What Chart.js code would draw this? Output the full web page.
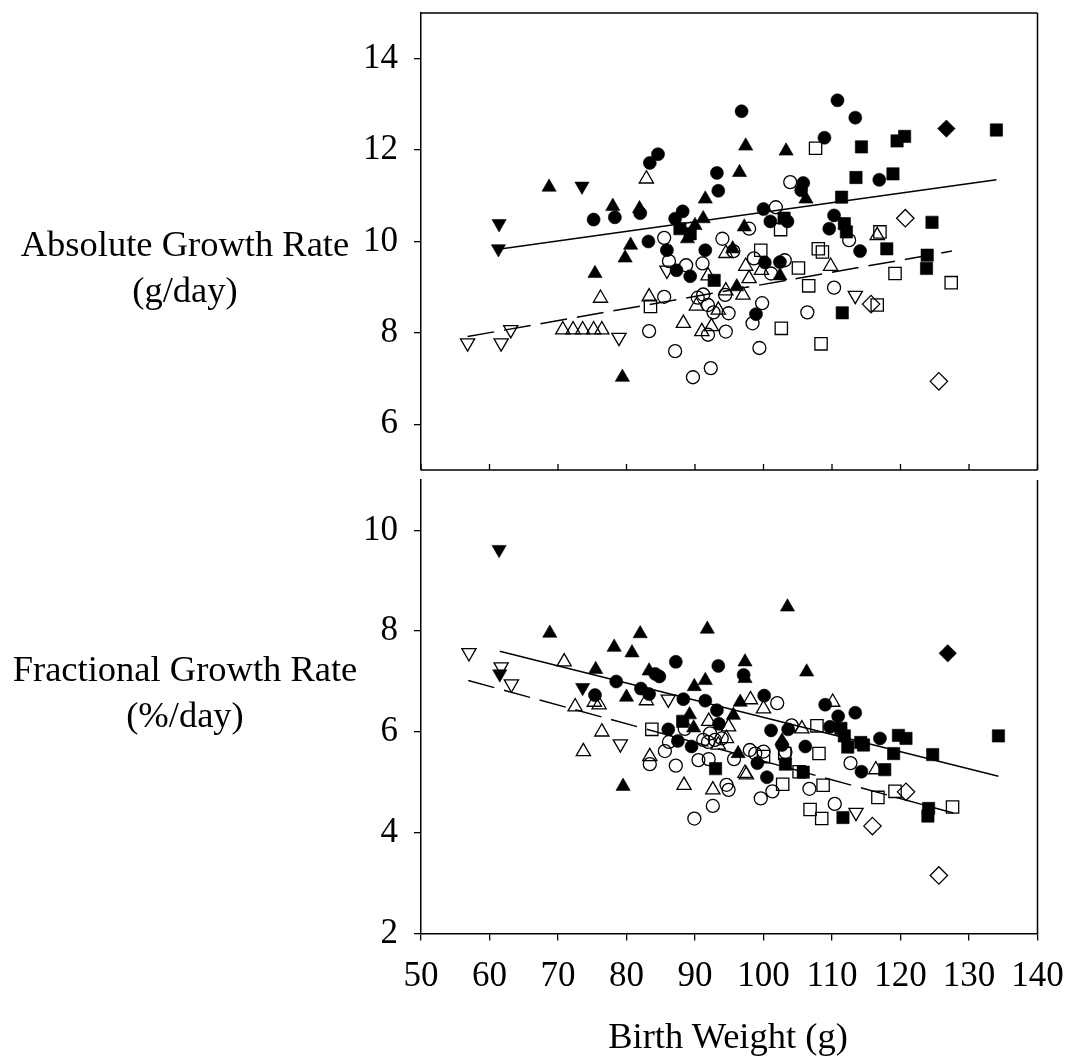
<!DOCTYPE html>
<html>
<head>
<meta charset="utf-8">
<script src="https://cdn.jsdelivr.net/npm/chart.js@4.4.1/dist/chart.umd.min.js"></script>
<style>
html,body{margin:0;padding:0;background:#fff;}
#wrap{position:relative;width:1065px;height:1059px;overflow:hidden;font-family:"Liberation Serif","Times New Roman",serif;color:#000;background:#fff;}
#c1{position:absolute;left:0;top:0;}
#c2{position:absolute;left:0;top:470px;}
.lbl{position:absolute;text-align:center;font-size:36.5px;line-height:46px;white-space:nowrap;}
</style>
</head>
<body>
<div id="wrap">
<canvas id="c1" width="1065" height="480" style="width:1065px;height:480px"></canvas>
<canvas id="c2" width="1065" height="589" style="width:1065px;height:589px"></canvas>
<div class="lbl" style="left:0;width:370px;top:221px">Absolute Growth Rate<br>(g/day)</div>
<div class="lbl" style="left:0;width:370px;top:646px">Fractional Growth Rate<br>(%/day)</div>
<div class="lbl" style="left:528px;width:400px;top:1013px">Birth Weight (g)</div>
</div>
<script>
// ---------- Tick values ----------
const X_TICKS = [50, 60, 70, 80, 90, 100, 110, 120, 130, 140];
const AGR_TICKS = [6, 8, 10, 12, 14];
const FGR_TICKS = [2, 4, 6, 8, 10];

// ---------- Absolute growth rate (g/day) vs birth weight (g) ----------
const agrFilledCircle = [[84.6,11.91],[83.4,11.72],[78.3,10.53],[82.0,10.62],[75.2,10.48],[88.2,10.66],[87.1,10.50],[93.2,11.50],[93.4,11.11],[105.8,11.28],[105.5,11.12],[100.0,10.71],[101.0,10.44],[103.5,10.44],[110.3,10.57],[109.6,10.28],[114.1,9.79],[83.2,10.00],[85.9,9.81],[87.3,9.37],[89.3,9.24],[91.5,9.81],[100.2,9.54],[102.4,9.55],[98.9,8.41],[96.8,12.85],[110.8,13.09],[113.4,12.71],[108.9,12.27],[116.9,11.35]];
const agrOpenCircle = [[103.9,11.30],[101.8,10.75],[112.5,10.03],[97.9,10.28],[85.5,10.08],[86.2,9.57],[88.7,9.48],[94.0,10.06],[91.1,9.52],[95.6,9.79],[98.6,9.63],[103.1,9.59],[101.1,9.30],[110.3,8.99],[106.4,8.45],[99.4,7.67],[99.8,8.65],[98.4,8.21],[94.4,8.83],[91.2,8.84],[90.4,8.77],[91.9,8.61],[92.7,8.45],[94.9,8.43],[91.9,7.96],[94.5,8.03],[87.1,7.60],[89.7,7.03],[92.3,7.23],[83.3,8.04],[85.5,8.79]];
const agrFilledTriangle = [[68.7,11.19],[91.5,10.93],[78.0,10.77],[81.9,10.72],[91.2,10.50],[96.5,11.51],[106.2,10.93],[90.0,10.35],[88.9,10.06],[97.2,10.32],[80.6,9.92],[79.8,9.64],[95.5,9.84],[102.4,9.25],[96.1,9.01],[79.4,7.03],[75.4,9.30],[97.4,12.09],[103.3,11.98]];
const agrOpenTriangle = [[82.9,11.37],[94.5,9.74],[97.4,9.46],[99.7,9.37],[97.9,9.19],[109.8,9.46],[91.9,9.25],[94.5,8.92],[97.0,8.83],[90.2,8.59],[93.4,8.50],[88.3,8.21],[91.0,8.03],[92.4,8.14],[83.3,8.79],[76.2,8.76],[70.7,8.07],[72.2,8.07],[73.6,8.07],[75.2,8.07],[76.4,8.07],[116.6,10.13]];
const agrFilledDown = [[73.5,11.21],[61.4,10.39],[61.3,9.84]];
const agrOpenDown = [[56.8,7.78],[61.7,7.78],[63.1,8.07],[78.9,7.90],[85.9,9.37],[113.4,8.82]];
const agrFilledSquare = [[113.5,11.40],[111.4,10.97],[87.8,10.28],[89.3,10.17],[103.0,10.51],[111.8,10.39],[112.1,10.21],[92.8,9.15],[111.5,8.44],[114.3,12.07],[119.5,12.20],[120.6,12.30],[134.0,12.44],[118.9,11.48],[124.6,10.42],[118.0,9.84],[123.9,9.70],[123.8,9.41]];
const agrOpenSquare = [[102.5,10.26],[99.6,9.81],[105.1,9.42],[108.0,9.84],[108.6,9.77],[106.6,9.03],[102.6,8.10],[108.4,7.76],[83.5,8.58],[107.6,12.04],[117.0,10.21],[119.2,9.30],[127.4,9.10],[116.6,8.61]];
const agrFilledDiamond = [[126.7,12.47]];
const agrOpenDiamond = [[120.7,10.51],[115.7,8.63],[125.6,6.94]];
const agrFitFilled = [[61.3,9.83],[134.0,11.35]];
const agrFitOpen = [[56.8,7.92],[127.5,9.79]];

// ---------- Fractional growth rate (%/day) vs birth weight (g) ----------
const fgrFilledCircle = [[87.2,7.39],[84.2,7.15],[84.8,7.10],[78.5,7.00],[82.1,6.86],[83.3,6.75],[88.3,6.65],[91.5,6.62],[75.4,6.73],[93.4,7.31],[97.1,7.13],[100.1,6.72],[93.2,6.43],[93.5,6.16],[86.1,6.05],[87.5,5.82],[89.5,5.71],[99.1,5.38],[100.5,5.10],[101.1,6.03],[103.6,6.05],[102.7,5.74],[106.1,5.71],[109.0,6.54],[110.9,6.31],[113.4,6.38],[109.7,6.10],[114.3,5.21],[117.0,5.87]];
const fgrOpenCircle = [[102.0,6.57],[104.1,6.13],[86.2,5.80],[91.2,5.84],[91.9,5.80],[92.9,5.84],[93.9,5.87],[92.2,5.97],[85.6,5.62],[83.4,5.36],[87.2,5.33],[90.5,5.44],[92.0,5.46],[95.7,5.46],[98.0,5.64],[98.8,5.57],[100.0,5.61],[101.3,4.82],[99.6,4.68],[106.7,4.87],[94.6,4.95],[94.9,4.85],[92.6,4.53],[89.9,4.28],[110.4,4.57],[112.7,5.38],[88.5,6.06],[103.2,5.60]];
const fgrFilledTriangle = [[68.8,7.96],[82.0,7.95],[78.2,7.68],[80.8,7.57],[75.5,7.24],[83.3,7.21],[89.9,6.90],[91.5,7.02],[80.0,6.69],[91.8,8.04],[97.3,7.39],[97.3,7.06],[106.3,7.19],[96.6,6.59],[89.2,6.34],[89.8,6.08],[95.6,6.33],[96.3,5.57],[102.7,5.82],[79.5,4.92],[103.5,8.48]];
const fgrOpenTriangle = [[70.9,7.39],[82.9,6.62],[75.3,6.59],[76.0,6.54],[72.5,6.50],[98.1,6.64],[100.0,6.46],[92.0,6.21],[94.9,6.10],[105.6,6.06],[94.6,5.87],[93.4,5.74],[83.4,5.51],[97.3,5.18],[97.5,5.15],[92.6,4.85],[88.4,4.94],[110.1,6.59],[76.4,6.00],[73.7,5.61],[116.4,5.25]];
const fgrFilledDown = [[61.4,9.62],[61.5,7.15],[73.6,6.88]];
const fgrOpenDown = [[57.0,7.57],[61.7,7.29],[63.2,6.95],[86.1,6.65],[79.1,5.76],[113.5,4.40]];
const fgrFilledSquare = [[88.2,6.21],[93.0,5.27],[103.2,5.36],[105.8,5.20],[111.3,6.07],[111.8,5.92],[112.3,5.70],[134.3,5.92],[119.7,5.93],[120.8,5.87],[114.2,5.79],[114.6,5.74],[119.0,5.57],[124.7,5.55],[117.7,5.25],[111.6,4.30],[124.1,4.48],[124.0,4.33]];
const fgrOpenSquare = [[83.7,6.05],[107.8,6.12],[103.1,5.57],[108.1,5.57],[100.0,5.51],[105.2,5.21],[102.8,4.96],[108.7,4.94],[106.8,4.46],[108.5,4.28],[116.7,4.70],[119.2,4.82],[127.6,4.51]];
const fgrFilledDiamond = [[126.9,7.56]];
const fgrOpenDiamond = [[120.8,4.81],[115.9,4.13],[125.6,3.15]];
const fgrFitFilled = [[61.5,7.60],[134.3,5.12]];
const fgrFitOpen = [[56.9,7.02],[127.7,4.39]];

// ---------- styling helpers ----------
const SHAPES = {
  circle:  {pointStyle:'circle',   radius:6.5, rotation:0},
  up:      {pointStyle:'triangle', radius:8.2, rotation:0},
  down:    {pointStyle:'triangle', radius:8.2, rotation:180},
  square:  {pointStyle:'rect',     radius:8.7, rotation:0},
  diamond: {pointStyle:'rectRot',  radius:8.7, rotation:0}
};
function marker(data, shape, filled) {
  const s = SHAPES[shape];
  return {
    type:'scatter', data, showLine:false,
    pointStyle:s.pointStyle, pointRadius:s.radius, pointHoverRadius:s.radius, pointRotation:s.rotation,
    pointBackgroundColor: filled ? '#000' : 'rgba(0,0,0,0)',
    pointBorderColor:'#000', pointBorderWidth: filled ? 0.6 : 1.3
  };
}
function fit(data, dashed) {
  return {
    type:'line', data, showLine:true, pointRadius:0, borderColor:'#000', borderWidth:1.5,
    borderDash: dashed ? [27, 10] : [], fill:false, tension:0
  };
}

const framePlugin = {
  id:'frame',
  afterDraw(chart, args, opts) {
    const {ctx, chartArea:a, scales} = chart;
    ctx.save();
    ctx.strokeStyle = '#000';
    ctx.lineWidth = 1.5;
    ctx.beginPath();
    if (opts.top) { ctx.moveTo(a.left, a.top); ctx.lineTo(a.right, a.top); }
    if (opts.right) { ctx.moveTo(a.right, a.top); ctx.lineTo(a.right, a.bottom); }
    if (opts.bottom) { ctx.moveTo(a.left, a.bottom); ctx.lineTo(a.right, a.bottom); }
    ctx.stroke();
    if (opts.innerXTicks) {
      ctx.lineWidth = 1.3;
      ctx.beginPath();
      X_TICKS.forEach(v => {
        const px = scales.x.getPixelForValue(v);
        ctx.moveTo(px, a.bottom); ctx.lineTo(px, a.bottom - 6);
      });
      ctx.stroke();
    }
    ctx.restore();
  }
};

const TICK_FONT = 35;
Chart.defaults.font.family = '"Liberation Serif", "Times New Roman", serif';
Chart.defaults.font.size = TICK_FONT;
Chart.defaults.color = '#000';

function noPad(s) { s.paddingTop = 0; s.paddingBottom = 0; s.paddingLeft = 0; s.paddingRight = 0; }

function yScale(min, max, ticks) {
  return {
    type:'linear', min, max,
    afterBuildTicks: s => { s.ticks = ticks.map(v => ({value:v})); },
    afterFit: s => { s.width = 421; noPad(s); },
    grid:{display:true, drawOnChartArea:false, drawTicks:true, tickLength:7, color:'#000', lineWidth:1.3},
    border:{display:true, color:'#000', width:1.5},
    ticks:{padding:16, font:{size:TICK_FONT}, color:'#000'}
  };
}

function commonOptions() {
  return {
    responsive:false, animation:false, maintainAspectRatio:false,
    events:[]
  };
}

// Top panel
new Chart(document.getElementById('c1'), {
  type:'scatter',
  data:{datasets:[
    marker(agrFilledCircle,'circle',true), marker(agrOpenCircle,'circle',false),
    marker(agrFilledTriangle,'up',true), marker(agrOpenTriangle,'up',false),
    marker(agrFilledDown,'down',true), marker(agrOpenDown,'down',false),
    marker(agrFilledSquare,'square',true), marker(agrOpenSquare,'square',false),
    marker(agrFilledDiamond,'diamond',true), marker(agrOpenDiamond,'diamond',false),
    fit(agrFitFilled,false), fit(agrFitOpen,true)
  ]},
  options:Object.assign(commonOptions(), {
    layout:{padding:{top:13, right:27.5, bottom:7.3, left:0}},
    scales:{
      x:{type:'linear', min:50, max:140, display:false,
         afterBuildTicks: s => { s.ticks = X_TICKS.map(v => ({value:v})); }},
      y:yScale(5, 15, AGR_TICKS)
    },
    plugins:{legend:{display:false}, tooltip:{enabled:false},
      frame:{top:true, right:true, bottom:true, innerXTicks:true}}
  }),
  plugins:[framePlugin]
});

// Bottom panel
new Chart(document.getElementById('c2'), {
  type:'scatter',
  data:{datasets:[
    marker(fgrFilledCircle,'circle',true), marker(fgrOpenCircle,'circle',false),
    marker(fgrFilledTriangle,'up',true), marker(fgrOpenTriangle,'up',false),
    marker(fgrFilledDown,'down',true), marker(fgrOpenDown,'down',false),
    marker(fgrFilledSquare,'square',true), marker(fgrOpenSquare,'square',false),
    marker(fgrFilledDiamond,'diamond',true), marker(fgrOpenDiamond,'diamond',false),
    fit(fgrFitFilled,false), fit(fgrFitOpen,true)
  ]},
  options:Object.assign(commonOptions(), {
    layout:{padding:{top:5, right:27.5, bottom:0, left:0}},
    scales:{
      x:{type:'linear', min:50, max:140,
         afterBuildTicks: s => { s.ticks = X_TICKS.map(v => ({value:v})); },
         afterFit: s => { s.height = 125.6; s.paddingLeft = 0; s.paddingRight = 0; },
         grid:{display:true, drawOnChartArea:false, drawTicks:true, tickLength:7, color:'#000', lineWidth:1.3},
         border:{display:true, color:'#000', width:1.5},
         ticks:{padding:15, font:{size:TICK_FONT}, color:'#000', maxRotation:0, autoSkip:false}},
      y:yScale(2, 11, FGR_TICKS)
    },
    plugins:{legend:{display:false}, tooltip:{enabled:false},
      frame:{top:false, right:true, bottom:false, innerXTicks:false}}
  }),
  plugins:[framePlugin]
});
</script>
</body>
</html>
